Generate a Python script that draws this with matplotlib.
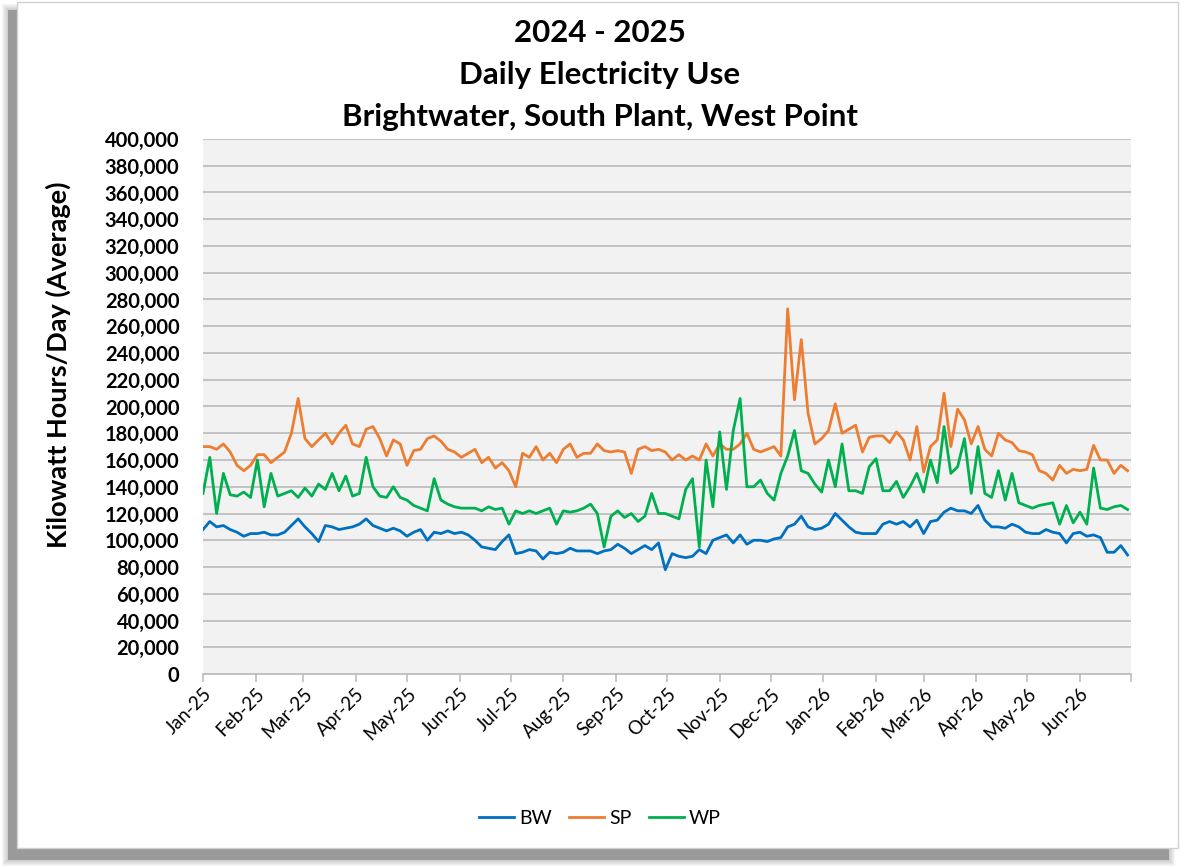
import numpy as np
import matplotlib
matplotlib.use("Agg")
import matplotlib.pyplot as plt
import matplotlib.dates as mdates
from matplotlib.patches import Rectangle
from matplotlib.ticker import FuncFormatter, MultipleLocator

plt.rcParams['font.family'] = ['Lato', 'DejaVu Sans']

# sample every 4 days starting 1 Jan 2025 (values in thousands of kWh/day)
dates = np.datetime64('2025-01-01') + np.arange(0, 545, 4)

bw = [108, 114, 110, 111, 108, 106, 103, 105, 105, 106, 104, 104, 106, 111, 116, 110, 105, 99, 111, 110, 108, 109, 110, 112,
      116, 111, 109, 107, 109, 107, 103, 106, 108, 100, 106, 105, 107, 105, 106, 104, 100, 95, 94, 93, 99, 104,
      90, 91, 93, 92, 86, 91, 90, 91, 94, 92, 92, 92, 90, 92, 93, 97, 94, 90, 93, 96, 93, 98,
      78, 90, 88, 87, 88, 93, 90, 100, 102, 104, 98, 104, 97, 100, 100, 99, 101, 102, 110, 112, 118, 110, 108,
      109, 112, 120, 115, 110, 106, 105, 105, 105, 112, 114, 112, 114, 110, 115, 105, 114, 115, 121, 124, 122, 122, 120,
      126, 115, 110, 110, 109, 112, 110, 106, 105, 105, 108, 106, 105, 98, 105, 106, 103, 104, 102, 91, 91, 96, 89]

sp = [170, 170, 168, 172, 166, 156, 152, 156, 164, 164, 158, 162, 166, 180, 206, 176, 170, 175, 180, 172, 180, 186, 172, 170,
      183, 185, 176, 163, 175, 172, 156, 167, 168, 176, 178, 174, 168, 166, 162, 165, 168, 158, 162, 154, 158, 152,
      140, 165, 162, 170, 160, 165, 158, 168, 172, 162, 165, 165, 172, 167, 166, 167, 166, 150, 168, 170, 167, 168,
      166, 160, 164, 160, 163, 160, 172, 163, 172, 168, 168, 172, 180, 168, 166, 168, 170, 163, 273, 205, 250, 195, 172,
      176, 182, 202, 180, 183, 186, 166, 177, 178, 178, 173, 181, 175, 160, 185, 151, 170, 175, 210, 170, 198, 190, 172,
      185, 168, 163, 180, 175, 173, 167, 166, 164, 152, 150, 145, 156, 150, 153, 152, 153, 171, 160, 160, 150, 156, 152]

wp = [135, 162, 120, 150, 134, 133, 136, 132, 160, 125, 150, 133, 135, 137, 132, 139, 133, 142, 138, 150, 137, 148, 133, 135,
      162, 140, 133, 132, 140, 132, 130, 126, 124, 122, 146, 130, 127, 125, 124, 124, 124, 122, 125, 123, 124, 112,
      122, 120, 122, 120, 122, 124, 112, 122, 121, 122, 124, 127, 120, 95, 118, 122, 117, 120, 114, 118, 135, 120,
      120, 118, 116, 138, 146, 95, 160, 125, 181, 138, 182, 206, 140, 140, 145, 135, 130, 150, 163, 182, 152, 150, 142,
      136, 160, 140, 172, 137, 137, 135, 155, 161, 137, 137, 144, 132, 140, 150, 136, 160, 143, 185, 150, 155, 176, 135,
      170, 135, 132, 152, 130, 150, 128, 126, 124, 126, 127, 128, 112, 126, 113, 121, 112, 154, 124, 123, 125, 126, 123]

series = [("BW", bw, "#0070C0"), ("SP", sp, "#ED7D31"), ("WP", wp, "#00B050")]

start, end = np.datetime64('2025-01-01'), np.datetime64('2026-07-01')

W, H = 1180, 866
fig = plt.figure(figsize=(W / 100, H / 100), dpi=100)


def px_rect(x0, y0, x1, y1, **kw):
    return Rectangle((x0 / W, 1 - y1 / H), (x1 - x0) / W, (y1 - y0) / H,
                     transform=fig.transFigure, zorder=-10, **kw)


# card with a soft drop shadow down and to the left
for i in range(6, 0, -1):
    fig.patches.append(px_rect(8 - i, 10 - i, 1169 + i, 860 + i,
                               facecolor='#808080', edgecolor='none', alpha=0.07))
fig.patches.append(px_rect(8, 10, 1169, 860, facecolor='#9a9a9a', edgecolor='none'))
fig.patches.append(px_rect(17, 2, 1178, 848, facecolor='white', edgecolor='#D0D0D0', lw=1))

ax = fig.add_axes([203 / W, 1 - 674 / H, 928 / W, 535 / H])
ax.set_facecolor('#F2F2F2')

for name, vals, color in series:
    ax.plot(dates, np.array(vals) * 1000, color=color, lw=2.0, label=name)

ax.set_ylim(0, 400000)
ax.set_xlim(start, end)
ax.yaxis.set_major_locator(MultipleLocator(20000))
ax.yaxis.set_major_formatter(FuncFormatter(lambda v, p: f"{v:,.0f}"))
ax.xaxis.set_major_locator(mdates.MonthLocator())
end_num = mdates.date2num(end)
ax.xaxis.set_major_formatter(FuncFormatter(
    lambda v, p: '' if v >= end_num - 0.5 else mdates.num2date(v).strftime('%b-%y')))

ax.yaxis.grid(True, color='#BFBFBF', lw=1.3)
ax.set_axisbelow(True)
for s in ['top', 'right', 'left']:
    ax.spines[s].set_visible(False)
ax.spines['bottom'].set_color('#BFBFBF')
ax.spines['bottom'].set_linewidth(1.3)

ax.tick_params(axis='y', length=0, pad=17, labelsize=14.5)
ax.tick_params(axis='x', length=6, color='#BFBFBF', width=1.2, labelsize=13.5, pad=2)
for lab in ax.get_yticklabels():
    lab.set_fontweight('bold')
plt.setp(ax.get_xticklabels(), rotation=45, ha='right', rotation_mode='anchor')

fig.text(600 / W, 1 - 33 / H, "2024 - 2025", ha='center', va='center', fontsize=22.5, fontweight='bold')
fig.text(600 / W, 1 - 75 / H, "Daily Electricity Use", ha='center', va='center', fontsize=22.5, fontweight='bold')
fig.text(600 / W, 1 - 117 / H, "Brightwater, South Plant, West Point", ha='center', va='center',
         fontsize=22.5, fontweight='bold')
fig.text(58 / W, 1 - 365 / H, "Kilowatt Hours/Day (Average)", rotation=90, ha='center', va='center',
         fontsize=19.5, fontweight='bold')

fig.legend(loc='center', bbox_to_anchor=(600 / W, 1 - 818 / H), ncol=3, frameon=False,
           fontsize=14, handlelength=1.8, columnspacing=0.9, handletextpad=0.25)

fig.savefig("out.png", dpi=100)
